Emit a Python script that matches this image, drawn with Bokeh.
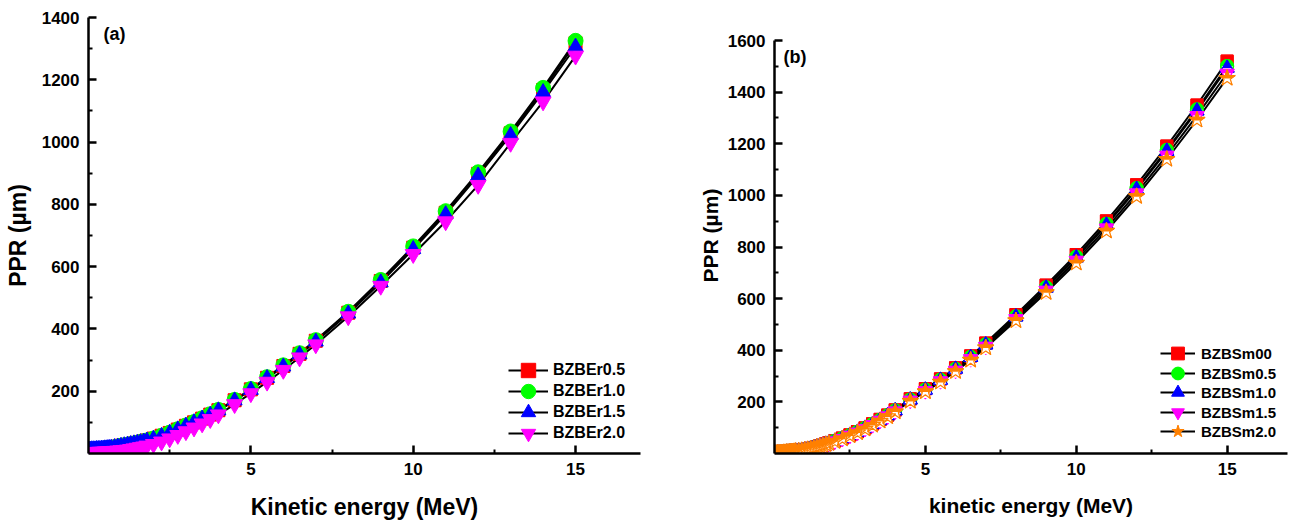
import math
from bokeh.plotting import figure
from bokeh.models import Range1d, FixedTicker, Legend, LegendItem, Label, ColumnDataSource
from bokeh.layouts import row
from bokeh.embed import file_html
from bokeh.resources import INLINE

FONT = "Liberation Sans"

# ---------------- data ----------------
energy = [0.01, 0.05, 0.1, 0.15, 0.2, 0.25, 0.3, 0.35, 0.4, 0.45, 0.5, 0.55, 0.6, 0.65, 0.7, 0.8, 0.9, 1.0,
          1.1, 1.2, 1.3, 1.4, 1.5, 1.6, 1.7, 1.8, 2.0, 2.25, 2.5, 2.75, 3.0, 3.25, 3.5, 3.75, 4.0,
          4.5, 5.0, 5.5, 6.0, 6.5, 7.0, 8.0, 9.0, 10.0, 11.0, 12.0, 13.0, 14.0, 15.0]

# panel (a)
ppr_er05 = [12, 12, 13, 13, 13, 14, 14, 14, 15, 15, 16, 16, 17, 17, 18, 20, 22, 25, 26, 28, 30, 32, 34, 37, 39, 42,
            48, 57, 66, 77, 89, 100, 112, 125, 139, 171, 206, 243, 281, 320, 362, 452, 554, 661, 773, 898, 1028, 1167, 1318]
ppr_er10 = [12, 12, 13, 13, 13, 14, 14, 14, 15, 15, 16, 16, 17, 17, 18, 20, 22, 25, 26, 28, 30, 32, 34, 37, 39, 42,
            48, 57, 67, 78, 90, 101, 113, 126, 140, 172, 207, 245, 283, 322, 364, 455, 557, 665, 778, 903, 1034, 1174, 1325]
ppr_er15 = [12, 12, 13, 13, 13, 14, 14, 14, 15, 15, 16, 16, 17, 17, 18, 20, 22, 24, 26, 28, 30, 32, 34, 36, 38, 41,
            47, 56, 66, 77, 89, 100, 112, 124, 138, 170, 204, 242, 279, 318, 359, 449, 549, 656, 768, 892, 1022, 1160, 1306]
ppr_er20 = [4, 4, 4, 4, 4, 4, 5, 5, 5, 5, 6, 6, 6, 7, 7, 8, 9, 10, 11, 12, 14, 16, 18, 20, 22, 25,
            30, 38, 48, 59, 71, 83, 96, 110, 125, 158, 193, 230, 268, 308, 350, 440, 538, 640, 745, 862, 997, 1130, 1277]

# panel (b)
ppr_sm00 = [1, 1, 2, 2, 3, 3, 4, 4, 5, 5, 6, 7, 7, 8, 9, 10, 13, 15, 17, 20, 23, 26, 29, 32, 37, 41,
            49, 60, 72, 85, 99, 115, 132, 149, 169, 212, 251, 289, 332, 378, 428, 538, 652, 771, 901, 1041, 1191, 1350, 1520]
ppr_sm05 = [1, 1, 2, 2, 3, 3, 4, 4, 5, 5, 6, 7, 7, 8, 9, 10, 12, 14, 17, 20, 23, 26, 29, 32, 36, 40,
            49, 59, 71, 84, 98, 114, 130, 148, 167, 209, 248, 286, 328, 374, 423, 531, 644, 762, 890, 1028, 1176, 1333, 1501]
ppr_sm10 = [1, 1, 2, 2, 3, 3, 4, 4, 5, 5, 6, 7, 7, 8, 9, 10, 12, 14, 16, 20, 23, 26, 29, 32, 36, 40,
            48, 59, 71, 83, 98, 113, 129, 147, 166, 208, 246, 284, 327, 372, 421, 529, 641, 758, 885, 1023, 1171, 1327, 1493]
ppr_sm15 = [1, 1, 2, 2, 3, 3, 4, 4, 5, 5, 6, 7, 7, 8, 9, 10, 12, 14, 16, 19, 22, 25, 28, 31, 35, 40,
            48, 58, 70, 82, 96, 111, 128, 145, 164, 206, 243, 281, 322, 367, 415, 522, 632, 748, 873, 1009, 1155, 1309, 1473]
ppr_sm20 = [1, 1, 2, 2, 3, 3, 4, 4, 5, 5, 6, 7, 7, 8, 9, 10, 12, 14, 16, 19, 22, 25, 28, 31, 35, 39,
            47, 57, 69, 81, 95, 110, 126, 143, 162, 203, 240, 277, 318, 362, 410, 515, 624, 738, 862, 996, 1140, 1292, 1454]

labels_a = ["BZBEr0.5", "BZBEr1.0", "BZBEr1.5", "BZBEr2.0"]
labels_b = ["BZBSm00", "BZBSm0.5", "BZBSm1.0", "BZBSm1.5", "BZBSm2.0"]

x_ticks = [5, 10, 15]
x_minor = [2.5, 7.5, 12.5]
ya_ticks = [200, 400, 600, 800, 1000, 1200, 1400]
ya_minor = [100, 300, 500, 700, 900, 1100, 1300]
yb_ticks = [200, 400, 600, 800, 1000, 1200, 1400, 1600]
yb_minor = [100, 300, 500, 700, 900, 1100, 1300, 1500]

FRAME_H = 436
TOP = 17
BOTTOM = 76


def style(p, xlabel, ylabel, yticks, yminor, lab_size, ylab_standoff):
    p.xaxis.ticker = FixedTicker(ticks=x_ticks, minor_ticks=x_minor)
    p.yaxis.ticker = FixedTicker(ticks=yticks, minor_ticks=yminor)
    p.xaxis.axis_label = xlabel
    p.yaxis.axis_label = ylabel
    for ax in (p.xaxis[0], p.yaxis[0]):
        ax.axis_line_width = 2.5
        ax.axis_line_color = "black"
        ax.major_tick_in = 8
        ax.major_tick_out = 0
        ax.minor_tick_in = 4
        ax.minor_tick_out = 0
        ax.major_tick_line_width = 2.5
        ax.minor_tick_line_width = 2
        ax.major_label_text_font = FONT
        ax.major_label_text_font_style = "bold"
        ax.major_label_text_font_size = "17px"
        ax.major_label_text_color = "black"
        ax.axis_label_text_font = FONT
        ax.axis_label_text_font_style = "bold"
        ax.axis_label_text_font_size = lab_size
        ax.axis_label_text_color = "black"
        ax.major_label_standoff = 9
    p.xaxis[0].axis_label_standoff = 16
    p.yaxis[0].axis_label_standoff = ylab_standoff
    p.xgrid.visible = False
    p.ygrid.visible = False
    p.outline_line_color = None


def add_legend_item(p, item, x, center_y, gw, gh, standoff, fsize):
    bottom = FRAME_H - (center_y - TOP) - gh / 2.0
    leg = Legend(items=[item], location=(x, bottom), glyph_width=gw, glyph_height=gh, spacing=0,
                 label_standoff=standoff, padding=0, margin=0, border_line_color=None,
                 background_fill_alpha=0, label_text_font=FONT, label_text_font_style="bold",
                 label_text_font_size=fsize, label_text_color="black", label_height=gh)
    p.add_layout(leg)


# ---------------- panel (a) ----------------
pa = figure(frame_width=552, frame_height=FRAME_H, min_border_left=88, min_border_right=20,
            min_border_top=TOP, min_border_bottom=BOTTOM, x_range=Range1d(0, 17), y_range=Range1d(0, 1400),
            toolbar_location=None, output_backend="svg")
style(pa, "Kinetic energy (MeV)", "PPR (\u00b5m)", ya_ticks, ya_minor, "23px", 8)

series_a = [ppr_er05, ppr_er10, ppr_er15, ppr_er20]
colors_a = ["#FF0000", "#00FF00", "#0000FF", "#FF00FF"]
markers_a = ["square", "circle", "triangle", "inverted_triangle"]
sizes_a = [13, 15, 15, 16]
legend_y_a = [370, 391, 412, 433]

lines_a = []
for vals in series_a:
    lines_a.append(pa.line(energy, vals, line_color="black", line_width=2))
for lab, vals, c, m, s, ln, cy in zip(labels_a, series_a, colors_a, markers_a, sizes_a, lines_a, legend_y_a):
    sc = pa.scatter(energy, vals, marker=m, size=s, fill_color=c, line_color=c, line_width=1)
    add_legend_item(pa, LegendItem(label=lab, renderers=[ln, sc]), 420, cy, 40, 36, 5, "16px")

pa.add_layout(Label(x=15, y=FRAME_H - (33 - TOP), x_units="screen", y_units="screen", text="(a)",
                    text_font=FONT, text_font_style="bold", text_font_size="18px",
                    text_baseline="middle", text_color="black"))

# ---------------- panel (b) ----------------
# 1600 sits 413 px above the x axis; frame is shared in height with panel (a)
YB_TOP = 1600 * FRAME_H / 413.0
pb = figure(frame_width=513, frame_height=FRAME_H, min_border_left=114, min_border_right=3,
            min_border_top=TOP, min_border_bottom=BOTTOM, x_range=Range1d(0, 17), y_range=Range1d(0, YB_TOP),
            toolbar_location=None, output_backend="svg")
style(pb, "kinetic energy (MeV)", "PPR (\u00b5m)", yb_ticks, yb_minor, "21px", 3)
pb.yaxis[0].bounds = (0, 1600)
ypp = YB_TOP / FRAME_H  # data units per screen pixel

series_b = [ppr_sm00, ppr_sm05, ppr_sm10, ppr_sm15, ppr_sm20]
colors_b = ["#FF0000", "#00FF00", "#0000FF", "#FF00FF", "#FF8000"]
markers_b = ["square", "circle", "triangle", "inverted_triangle", "star"]
sizes_b = [12, 13, 14, 14, 17]
legend_y_b = [353, 373, 392, 412, 431]

lines_b = []
for vals in series_b:
    lines_b.append(pb.line(energy, vals, line_color="black", line_width=2))

for lab, vals, c, m, s, ln, cy in zip(labels_b, series_b, colors_b, markers_b, sizes_b, lines_b, legend_y_b):
    src = ColumnDataSource(dict(x=energy, y=vals))
    full = pb.scatter("x", "y", source=src, marker=m, size=s, fill_color=c, line_color=c, line_width=1)
    if m == "square":
        lo = [v - (s / 4) * ypp for v in vals]
        pb.rect(energy, lo, width=s - 2, height=s / 2 - 1, width_units="screen", height_units="screen",
                fill_color="white", line_color=None)
    elif m == "circle":
        pb.wedge("x", "y", source=src, radius=s / 2 - 1, radius_units="screen",
                 start_angle=math.pi, end_angle=2 * math.pi, fill_color="white", line_color=None)
    elif m == "triangle":
        pb.scatter("x", "y", source=src, marker=m, size=s, fill_color="white", line_color=None)
        hi = [v + 0.1925 * s * ypp for v in vals]
        pb.scatter(energy, hi, marker=m, size=2 * s / 3, fill_color=c, line_color=None)
    elif m == "inverted_triangle":
        lo = [v - 0.1925 * s * ypp for v in vals]
        pb.scatter(energy, lo, marker=m, size=2 * s / 3, fill_color="white", line_color=None)
    elif m == "star":
        r = s / 2
        lo = [v - 0.4 * r * ypp for v in vals]
        pb.rect(energy, lo, width=1.0 * r, height=0.7 * r, width_units="screen", height_units="screen",
                fill_color="white", line_color=None)
    pb.scatter("x", "y", source=src, marker=m, size=s, fill_color=None, line_color=c, line_width=1.2)
    add_legend_item(pb, LegendItem(label=lab, renderers=[ln, full]), 386, cy, 35, 32, 6, "15px")

pb.add_layout(Label(x=9, y=FRAME_H - (56 - TOP), x_units="screen", y_units="screen", text="(b)",
                    text_font=FONT, text_font_style="bold", text_font_size="18px",
                    text_baseline="middle", text_color="black"))

layout = row(pa, pb)
open("out.html", "w").write(file_html(layout, INLINE))
